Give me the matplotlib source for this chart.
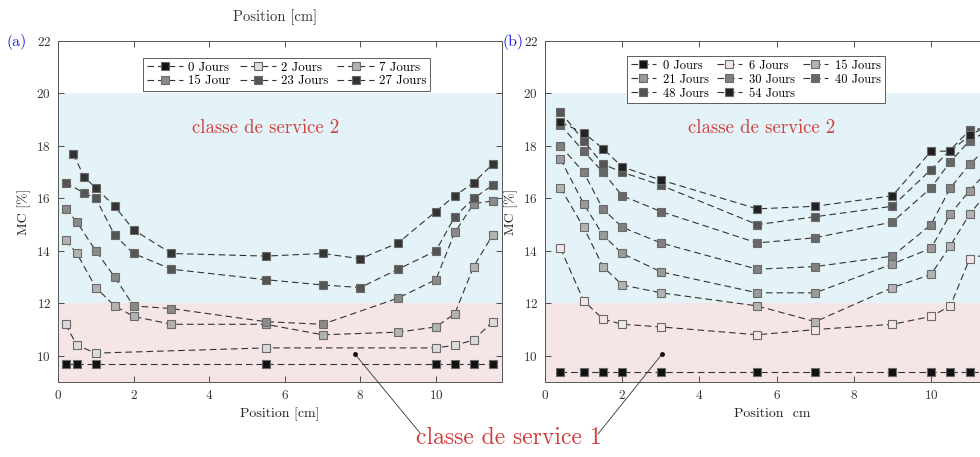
import matplotlib
matplotlib.use("Agg")
import matplotlib.pyplot as plt

plt.rcParams['font.family'] = ['cmr10', 'DejaVu Serif']
plt.rcParams['axes.formatter.use_mathtext'] = True
plt.rcParams['mathtext.fontset'] = 'cm'

# ---------------- Panel (a) data ----------------
a_labels = ["0 Jours", "2 Jours", "7 Jours", "15 Jour", "23 Jours", "27 Jours"]
a_colors = ["#111111", "#dcdcdc", "#b2b2b2", "#8a8a8a", "#555555", "#333333"]
a_x0 = [0.2, 0.5, 1.0, 5.5, 10.0, 10.5, 11.0, 11.5]
a_y0 = [9.7, 9.7, 9.7, 9.7, 9.7, 9.7, 9.7, 9.7]
a_x2 = [0.2, 0.5, 1.0, 5.5, 10.0, 10.5, 11.0, 11.5]
a_y2 = [11.2, 10.4, 10.1, 10.3, 10.3, 10.4, 10.6, 11.3]
a_x7 = [0.2, 0.5, 1.0, 1.5, 2.0, 3.0, 5.5, 7.0, 9.0, 10.0, 10.5, 11.0, 11.5]
a_y7 = [14.4, 13.9, 12.6, 11.9, 11.5, 11.2, 11.2, 10.8, 10.9, 11.1, 11.6, 13.4, 14.6]
a_x15 = [0.2, 0.5, 1.0, 1.5, 2.0, 3.0, 5.5, 7.0, 9.0, 10.0, 10.5, 11.0, 11.5]
a_y15 = [15.6, 15.1, 14.0, 13.0, 11.9, 11.8, 11.3, 11.2, 12.2, 12.9, 14.7, 15.8, 15.9]
a_x23 = [0.2, 0.7, 1.0, 1.5, 2.0, 3.0, 5.5, 7.0, 8.0, 9.0, 10.0, 10.5, 11.0, 11.5]
a_y23 = [16.6, 16.2, 16.0, 14.6, 13.9, 13.3, 12.9, 12.7, 12.6, 13.3, 14.0, 15.3, 16.0, 16.5]
a_x27 = [0.4, 0.7, 1.0, 1.5, 2.0, 3.0, 5.5, 7.0, 8.0, 9.0, 10.0, 10.5, 11.0, 11.5]
a_y27 = [17.7, 16.8, 16.4, 15.7, 14.8, 13.9, 13.8, 13.9, 13.7, 14.3, 15.5, 16.1, 16.6, 17.3]
a_xs = [a_x0, a_x2, a_x7, a_x15, a_x23, a_x27]
a_ys = [a_y0, a_y2, a_y7, a_y15, a_y23, a_y27]

# ---------------- Panel (b) data ----------------
b_labels = ["0 Jours", "6 Jours", "15 Jours", "21 Jours", "30 Jours", "40 Jours", "48 Jours", "54 Jours"]
b_colors = ["#111111", "#f3e6e6", "#b4b4b4", "#9a9a9a", "#808080", "#676767", "#555555", "#222222"]
b_x = [0.4, 1.0, 1.5, 2.0, 3.0, 5.5, 7.0, 9.0, 10.0, 10.5, 11.0, 11.5]
b_x48 = [0.4, 1.0, 1.5, 2.0, 3.0, 5.5, 7.0, 9.0, 10.0, 11.0, 11.5]
b_y0 = [9.4, 9.4, 9.4, 9.4, 9.4, 9.4, 9.4, 9.4, 9.4, 9.4, 9.4, 9.4]
b_y6 = [14.1, 12.1, 11.4, 11.2, 11.1, 10.8, 11.0, 11.2, 11.5, 11.9, 13.7, 13.9]
b_y15 = [16.4, 14.9, 13.4, 12.7, 12.4, 11.9, 11.3, 12.6, 13.1, 14.2, 15.4, 16.3]
b_y21 = [17.5, 15.8, 14.6, 13.9, 13.2, 12.4, 12.4, 13.5, 14.1, 15.4, 16.3, 17.1]
b_y30 = [18.0, 17.0, 15.6, 14.9, 14.3, 13.3, 13.4, 13.8, 15.0, 16.4, 17.3, 18.0]
b_y40 = [18.8, 17.8, 17.0, 16.1, 15.5, 14.3, 14.5, 15.1, 16.4, 17.4, 18.2, 18.6]
b_y48 = [19.3, 18.2, 17.3, 17.0, 16.5, 15.0, 15.3, 15.7, 17.1, 18.6, 18.7]
b_y54 = [18.9, 18.5, 17.9, 17.2, 16.7, 15.6, 15.7, 16.1, 17.8, 17.8, 18.4, 18.8]
b_xs = [b_x, b_x, b_x, b_x, b_x, b_x, b_x48, b_x]
b_ys = [b_y0, b_y6, b_y15, b_y21, b_y30, b_y40, b_y48, b_y54]

y_ticks = [10, 12, 14, 16, 18, 20, 22]
x_ticks = [0, 2, 4, 6, 8, 10]

BLUE_BAND = "#e4f3f7"
PINK_BAND = "#f6e5e5"
RED = "#d23c3c"

fig = plt.figure(figsize=(9.8, 4.57), dpi=100)
ax_a = fig.add_axes([58/980, 1-382/457, 444/980, 341/457])
ax_b = fig.add_axes([545/980, 1-382/457, 453.6/980, 341/457])


def style_axes(ax):
    ax.set_xlim(0, 11.75)
    ax.set_ylim(9, 22)
    ax.axhspan(12, 20, color=BLUE_BAND, zorder=0, lw=0)
    ax.axhspan(9, 12, color=PINK_BAND, zorder=0, lw=0)
    ax.set_xticks(x_ticks)
    ax.set_yticks(y_ticks)
    ax.tick_params(direction='in', top=True, right=True, length=4, width=0.6,
                   labelsize=9.5, colors='#333333', pad=5)
    for s in ax.spines.values():
        s.set_color('#555555')
        s.set_linewidth(0.7)
    ax.set_ylabel("MC [%]", fontsize=10, color='#222222', labelpad=4)


def draw_series(ax, xs, ys, colors, labels):
    handles = []
    for x, y, c, lab in zip(xs, ys, colors, labels):
        h, = ax.plot(x, y, linestyle=(0, (6, 3.5)), color='#333333', lw=0.8,
                     marker='s', markersize=5.5, markerfacecolor=c,
                     markeredgecolor='#6a6a6a', markeredgewidth=0.8,
                     label=lab, zorder=3, clip_on=False)
        handles.append(h)
    return handles


style_axes(ax_a)
style_axes(ax_b)

ha = draw_series(ax_a, a_xs, a_ys, a_colors, a_labels)
hb = draw_series(ax_b, b_xs, b_ys, b_colors, b_labels)

ax_a.set_xlabel("Position [cm]", fontsize=10, color='#222222', labelpad=4)
ax_b.set_xlabel("Position  cm", fontsize=10, color='#222222', labelpad=4)

# legends (row-major ordering)
order_a = [0, 3, 1, 4, 2, 5]
leg_a = ax_a.legend([ha[i] for i in order_a], [a_labels[i] for i in order_a],
                    ncol=3, loc='upper center', bbox_to_anchor=(0.515, 0.97),
                    fontsize=9.3, frameon=True, fancybox=False, edgecolor='#444444',
                    framealpha=1, handlelength=2.8, handletextpad=0.4,
                    columnspacing=0.7, borderpad=0.3, labelspacing=0.12)
leg_a.get_frame().set_linewidth(0.6)
order_b = [0, 3, 6, 1, 4, 7, 2, 5]
leg_b = ax_b.legend([hb[i] for i in order_b], [b_labels[i] for i in order_b],
                    ncol=3, loc='upper center', bbox_to_anchor=(0.465, 0.975),
                    fontsize=9, frameon=True, fancybox=False, edgecolor='#444444',
                    framealpha=1, handlelength=2.0, handletextpad=0.6,
                    columnspacing=0.6, borderpad=0.3, labelspacing=0.15)
leg_b.get_frame().set_linewidth(0.6)

# service class texts
ax_a.text(5.5, 18.7, "classe de service 2", color=RED, fontsize=13.5,
          ha='center', va='center', zorder=4)
ax_b.text(5.6, 18.7, "classe de service 2", color=RED, fontsize=13.5,
          ha='center', va='center', zorder=4)
fig.text(509/980, 1-438/457, "classe de service 1", color=RED, fontsize=17,
         ha='center', va='center')

# annotation leaders
ptr_a = (7.86, 10.06)
ptr_b = (3.03, 10.06)
ax_a.plot([ptr_a[0]], [ptr_a[1]], 'o', color='#111111', markersize=2.5, zorder=5)
ax_b.plot([ptr_b[0]], [ptr_b[1]], 'o', color='#111111', markersize=2.5, zorder=5)
ax_a.annotate("", xy=ptr_a, xycoords='data', xytext=(420/980, 1-433/457),
              textcoords='figure fraction', annotation_clip=False,
              arrowprops=dict(arrowstyle='-', lw=0.6, color='#333333',
                              shrinkA=0, shrinkB=0))
ax_b.annotate("", xy=ptr_b, xycoords='data', xytext=(598/980, 1-434/457),
              textcoords='figure fraction', annotation_clip=False,
              arrowprops=dict(arrowstyle='-', lw=0.6, color='#333333',
                              shrinkA=0, shrinkB=0))

# panel labels
fig.text(17/980, 1-42/457, "(a)", color='#1a1aee', fontsize=11.5, ha='center', va='center')
fig.text(513/980, 1-42/457, "(b)", color='#1a1aee', fontsize=11.5, ha='center', va='center')

# stray top label (partially cut)
fig.text(275/980, 1-21/457, "Position [cm]", color='#333333', fontsize=10.5,
         ha='center', va='baseline')

fig.savefig("out.png", dpi=100)
